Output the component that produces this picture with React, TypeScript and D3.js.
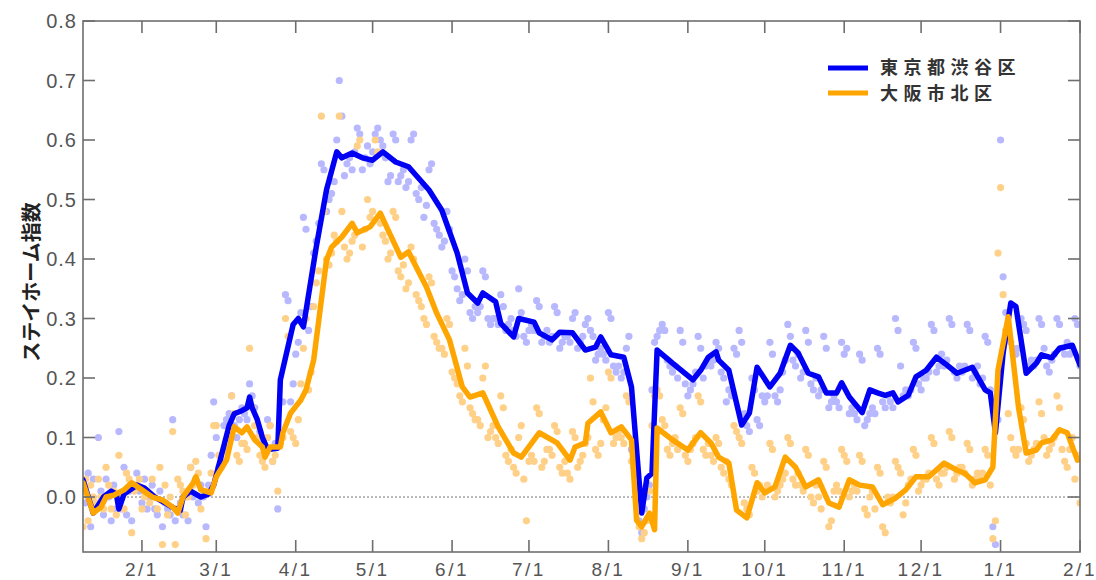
import React from 'react';
import * as d3 from 'd3';

// daily dots start on this date
const dotStart = '2020-01-09';
const xStart = '2020-01-09';
const xEnd = '2021-02-01';

const yTicks = [0.0, 0.1, 0.2, 0.3, 0.4, 0.5, 0.6, 0.7, 0.8];
const monthTicks = ['2020-02-01', '2020-03-01', '2020-04-01', '2020-05-01', '2020-06-01', '2020-07-01',
  '2020-08-01', '2020-09-01', '2020-10-01', '2020-11-01', '2020-12-01', '2021-01-01', '2021-02-01'];
const monthLabels = ['2/1', '3/1', '4/1', '5/1', '6/1', '7/1', '8/1', '9/1', '10/1', '11/1', '12/1', '1/1', '2/1'];

const seriesNames = ['東京都渋谷区', '大阪市北区'];

// daily values (Thu..Wed rows)
const tokyoDots = [
  0.02, -0.01, 0.04, -0.05, 0.03, -0.02, 0.10,
  0.01, -0.03, 0.03, 0.00, -0.04, 0.02, -0.02,
  0.11, -0.02, 0.05, -0.03, 0.01, -0.04, 0.02,
  0.04, 0.01, -0.01, 0.03, -0.02, 0.00, 0.02,
  -0.02, -0.03, 0.01, -0.05, -0.01, -0.02, -0.03,
  0.13, -0.04, -0.02, -0.01, -0.03, 0.00, -0.04,
  0.05, 0.00, 0.03, -0.01, 0.02, 0.00, -0.05,
  0.02, 0.07, 0.16, 0.10, 0.05, 0.06, 0.12,
  0.13, 0.14, 0.17, 0.12, 0.10, 0.13, 0.15,
  0.14, 0.13, 0.19, 0.17, 0.15, 0.12, 0.11,
  0.09, 0.08, 0.13, 0.12, 0.06, 0.09, -0.02,
  0.10, 0.16, 0.34, 0.33, 0.16, 0.19, 0.24,
  0.26, 0.31, 0.47, 0.45, 0.28, 0.32, 0.41,
  0.43, 0.46, 0.56, 0.55, 0.48, 0.50, 0.51,
  0.53, 0.60, 0.70, 0.64, 0.54, 0.56, 0.57,
  0.55, 0.58, 0.62, 0.61, 0.55, 0.57, 0.59,
  0.56, 0.58, 0.61, 0.62, 0.60, 0.59, 0.57,
  0.53, 0.54, 0.61, 0.60, 0.53, 0.54, 0.55,
  0.52, 0.53, 0.60, 0.61, 0.51, 0.50, 0.52,
  0.47, 0.49, 0.55, 0.56, 0.46, 0.45, 0.44,
  0.42, 0.43, 0.48, 0.45, 0.38, 0.37, 0.35,
  0.33, 0.34, 0.40, 0.38, 0.31, 0.30, 0.32,
  0.31, 0.32, 0.38, 0.37, 0.30, 0.29, 0.30,
  0.30, 0.29, 0.34, 0.32, 0.28, 0.29, 0.30,
  0.28, 0.27, 0.35, 0.31, 0.27, 0.26, 0.28,
  0.29, 0.28, 0.33, 0.32, 0.26, 0.27, 0.28,
  0.26, 0.27, 0.32, 0.31, 0.25, 0.26, 0.27,
  0.27, 0.26, 0.30, 0.31, 0.25, 0.26, 0.27,
  0.29, 0.30, 0.28, 0.27, 0.23, 0.24, 0.25,
  0.24, 0.23, 0.31, 0.30, 0.22, 0.21, 0.22,
  0.20, 0.21, 0.25, 0.27, 0.08, 0.05, 0.02,
  -0.04, -0.06, -0.02, 0.00, 0.02, 0.18, 0.26,
  0.27, 0.28, 0.29, 0.28, 0.23, 0.22, 0.21,
  0.22, 0.20, 0.28, 0.26, 0.19, 0.17, 0.18,
  0.19, 0.21, 0.27, 0.25, 0.20, 0.22, 0.23,
  0.22, 0.23, 0.26, 0.25, 0.21, 0.20, 0.16,
  0.18, 0.17, 0.25, 0.24, 0.28, 0.26, 0.14,
  0.12, 0.11, 0.20, 0.18, 0.13, 0.12, 0.17,
  0.16, 0.17, 0.26, 0.24, 0.17, 0.16, 0.18,
  0.21, 0.23, 0.29, 0.27, 0.23, 0.22, 0.24,
  0.20, 0.21, 0.28, 0.26, 0.19, 0.18, 0.20,
  0.17, 0.18, 0.27, 0.25, 0.15, 0.16, 0.17,
  0.16, 0.15, 0.26, 0.24, 0.25, 0.14, 0.15,
  0.14, 0.13, 0.24, 0.23, 0.12, 0.13, 0.14,
  0.15, 0.14, 0.25, 0.24, 0.16, 0.15, 0.17,
  0.16, 0.15, 0.30, 0.28, 0.22, 0.17, 0.18,
  0.17, 0.18, 0.26, 0.25, 0.19, 0.18, 0.20,
  0.20, 0.21, 0.29, 0.28, 0.21, 0.22, 0.24,
  0.22, 0.23, 0.30, 0.29, 0.21, 0.20, 0.22,
  0.21, 0.22, 0.29, 0.28, 0.20, 0.21, 0.22,
  0.19, 0.20, 0.27, 0.26, 0.18, -0.05, -0.08,
  0.13, 0.60, 0.37, 0.31, 0.28, 0.26, 0.25,
  0.24, 0.25, 0.30, 0.29, 0.28, 0.22, 0.23,
  0.22, 0.23, 0.30, 0.29, 0.25, 0.22, 0.21,
  0.23, 0.24, 0.30, 0.29, 0.25, 0.24, 0.26,
  0.24, 0.25, 0.30, 0.29, 0.22,
];

const osakaDots = [
  -0.05, 0.03, -0.04, 0.02, 0.00, -0.01, 0.03,
  0.00, -0.02, 0.05, 0.02, -0.02, 0.01, -0.03,
  0.07, 0.00, -0.02, 0.04, 0.03, -0.06, 0.01,
  0.02, 0.03, -0.02, 0.00, 0.01, -0.01, 0.03,
  0.00, -0.02, 0.05, -0.08, 0.02, -0.03, 0.00,
  0.11, -0.08, 0.03, 0.02, 0.01, -0.03, 0.00,
  0.05, 0.02, 0.06, 0.04, -0.02, 0.01, -0.07,
  0.01, 0.04, 0.12, 0.12, 0.07, 0.05, 0.08,
  0.08, 0.10, 0.17, 0.14, 0.07, 0.06, 0.09,
  0.09, 0.08, 0.25, 0.15, 0.12, 0.10, 0.07,
  0.06, 0.05, 0.10, 0.12, 0.06, 0.07, 0.01,
  0.09, 0.10, 0.30, 0.27, 0.11, 0.10, 0.09,
  0.13, 0.19, 0.25, 0.30, 0.18, 0.21, 0.32,
  0.36, 0.38, 0.64, 0.48, 0.40, 0.39, 0.41,
  0.44, 0.43, 0.64, 0.48, 0.42, 0.40, 0.41,
  0.43, 0.44, 0.59, 0.60, 0.42, 0.45, 0.50,
  0.47, 0.48, 0.60, 0.58, 0.46, 0.44, 0.43,
  0.40, 0.41, 0.48, 0.47, 0.38, 0.37, 0.39,
  0.35, 0.36, 0.42, 0.40, 0.34, 0.33, 0.32,
  0.30, 0.29, 0.37, 0.36, 0.27, 0.26, 0.25,
  0.25, 0.24, 0.30, 0.29, 0.21, 0.20, 0.19,
  0.17, 0.16, 0.25, 0.22, 0.15, 0.14, 0.13,
  0.13, 0.12, 0.20, 0.22, 0.10, 0.11, 0.12,
  0.10, 0.09, 0.17, 0.15, 0.07, 0.06, 0.08,
  0.05, 0.04, 0.10, 0.12, 0.03, -0.04, 0.06,
  0.07, 0.06, 0.15, 0.14, 0.05, 0.06, 0.08,
  0.08, 0.07, 0.12, 0.11, 0.05, 0.04, 0.06,
  0.04, 0.03, 0.11, 0.10, 0.05, 0.06, 0.07,
  0.09, 0.10, 0.20, 0.16, 0.08, 0.07, 0.09,
  0.13, 0.15, 0.21, 0.20, 0.09, 0.10, 0.11,
  0.10, 0.09, 0.17, 0.16, 0.06, 0.05, 0.02,
  -0.05, -0.07, -0.06, -0.04, 0.01, 0.12, 0.17,
  0.18, 0.17, 0.13, 0.12, 0.08, 0.07, 0.09,
  0.10, 0.08, 0.15, 0.14, 0.07, 0.06, 0.08,
  0.09, 0.10, 0.17, 0.16, 0.08, 0.07, 0.09,
  0.07, 0.06, 0.10, 0.09, 0.05, 0.04, 0.06,
  0.03, 0.02, 0.12, 0.11, 0.10, 0.09, -0.01,
  -0.02, -0.03, 0.05, 0.04, 0.01, 0.02, 0.00,
  0.01, 0.02, 0.09, 0.08, 0.00, 0.01, 0.02,
  0.03, 0.04, 0.10, 0.09, 0.03, 0.02, 0.04,
  0.02, 0.01, 0.08, 0.07, 0.00, -0.01, 0.02,
  0.00, -0.02, 0.06, 0.05, -0.05, -0.04, 0.01,
  0.02, 0.01, 0.08, 0.07, 0.06, 0.00, 0.01,
  0.02, 0.01, 0.07, 0.06, -0.02, -0.03, 0.00,
  0.01, -0.02, 0.05, 0.04, -0.05, -0.06, 0.00,
  -0.01, 0.00, 0.06, 0.05, 0.04, -0.03, -0.01,
  0.02, 0.03, 0.08, 0.07, 0.01, 0.02, 0.03,
  0.03, 0.04, 0.10, 0.09, 0.03, 0.02, 0.04,
  0.04, 0.05, 0.11, 0.10, 0.03, 0.04, 0.05,
  0.05, 0.04, 0.09, 0.08, 0.02, 0.03, 0.04,
  0.03, 0.04, 0.08, 0.07, 0.02, -0.07, -0.04,
  0.41, 0.52, 0.34, 0.28, 0.14, 0.10, 0.08,
  0.07, 0.08, 0.15, 0.13, 0.09, 0.06, 0.07,
  0.08, 0.09, 0.16, 0.14, 0.10, 0.07, 0.08,
  0.09, 0.10, 0.17, 0.15, 0.08, 0.06, 0.05,
  0.08, 0.10, 0.03, 0.07, -0.01,
];

// smoothed lines, read at their corners
const tokyoLineDates = [
  '2020-01-09', '2020-01-13', '2020-01-17', '2020-01-20', '2020-01-22', '2020-01-23', '2020-01-25', '2020-01-30',
  '2020-02-02', '2020-02-06', '2020-02-10', '2020-02-14', '2020-02-16', '2020-02-17', '2020-02-20', '2020-02-24',
  '2020-02-27', '2020-02-29', '2020-03-03', '2020-03-06', '2020-03-08', '2020-03-11', '2020-03-13', '2020-03-14',
  '2020-03-15', '2020-03-17', '2020-03-19', '2020-03-21', '2020-03-25', '2020-03-26', '2020-03-31', '2020-04-02',
  '2020-04-04', '2020-04-09', '2020-04-13', '2020-04-17', '2020-04-19', '2020-04-23', '2020-04-27', '2020-05-01',
  '2020-05-05', '2020-05-10', '2020-05-15', '2020-05-23', '2020-05-28', '2020-06-03', '2020-06-07', '2020-06-11',
  '2020-06-13', '2020-06-18', '2020-06-20', '2020-06-25', '2020-06-27', '2020-07-03', '2020-07-05', '2020-07-10',
  '2020-07-13', '2020-07-18', '2020-07-23', '2020-07-27', '2020-07-29', '2020-08-02', '2020-08-07', '2020-08-10',
  '2020-08-14', '2020-08-16', '2020-08-18', '2020-08-20', '2020-08-26', '2020-09-03', '2020-09-06', '2020-09-09',
  '2020-09-12', '2020-09-13', '2020-09-17', '2020-09-22', '2020-09-25', '2020-09-28', '2020-10-03', '2020-10-07',
  '2020-10-11', '2020-10-14', '2020-10-18', '2020-10-22', '2020-10-25', '2020-10-29', '2020-10-31', '2020-11-03',
  '2020-11-08', '2020-11-11', '2020-11-14', '2020-11-17', '2020-11-20', '2020-11-22', '2020-11-26', '2020-11-29',
  '2020-12-03', '2020-12-07', '2020-12-11', '2020-12-15', '2020-12-21', '2020-12-26', '2020-12-28', '2020-12-30',
  '2021-01-02', '2021-01-05', '2021-01-07', '2021-01-11', '2021-01-15', '2021-01-17', '2021-01-21', '2021-01-24',
  '2021-01-29', '2021-02-01',
];
const tokyoLineValues = [
  0.029, -0.027, 0.0, 0.01, 0.005, -0.02, 0.005, 0.02,
  0.015, 0.0, -0.01, -0.02, -0.022, 0.0, 0.01, 0.0,
  0.005, 0.02, 0.07, 0.12, 0.14, 0.145, 0.15, 0.168,
  0.15, 0.13, 0.10, 0.08, 0.082, 0.197, 0.29, 0.30,
  0.286, 0.42, 0.516, 0.58, 0.57, 0.578, 0.57, 0.566,
  0.58, 0.563, 0.555, 0.516, 0.482, 0.41, 0.343, 0.326,
  0.343, 0.328, 0.292, 0.269, 0.30, 0.294, 0.276, 0.264,
  0.277, 0.276, 0.247, 0.252, 0.269, 0.239, 0.235, 0.185,
  -0.027, 0.032, 0.04, 0.247, 0.225, 0.197, 0.213, 0.235,
  0.244, 0.23, 0.213, 0.121, 0.141, 0.218, 0.185, 0.208,
  0.255, 0.242, 0.208, 0.202, 0.175, 0.175, 0.192, 0.168,
  0.142, 0.18, 0.175, 0.171, 0.175, 0.16, 0.171, 0.202,
  0.213, 0.235, 0.222, 0.208, 0.218, 0.18, 0.175, 0.108,
  0.242, 0.326, 0.32, 0.208, 0.225, 0.239, 0.234, 0.25,
  0.255, 0.222,
];

const osakaLineDates = [
  '2020-01-09', '2020-01-13', '2020-01-16', '2020-01-18', '2020-01-21', '2020-01-25', '2020-01-28', '2020-02-01',
  '2020-02-05', '2020-02-09', '2020-02-13', '2020-02-15', '2020-02-17', '2020-02-21', '2020-02-22', '2020-02-24',
  '2020-02-28', '2020-03-01', '2020-03-05', '2020-03-08', '2020-03-11', '2020-03-13', '2020-03-16', '2020-03-19',
  '2020-03-20', '2020-03-22', '2020-03-26', '2020-03-27', '2020-03-30', '2020-04-03', '2020-04-05', '2020-04-08',
  '2020-04-13', '2020-04-15', '2020-04-19', '2020-04-23', '2020-04-25', '2020-04-30', '2020-05-04', '2020-05-07',
  '2020-05-12', '2020-05-15', '2020-05-22', '2020-05-26', '2020-05-31', '2020-06-05', '2020-06-08', '2020-06-13',
  '2020-06-19', '2020-06-25', '2020-06-28', '2020-07-05', '2020-07-12', '2020-07-17', '2020-07-19', '2020-07-23',
  '2020-07-24', '2020-07-29', '2020-08-02', '2020-08-06', '2020-08-10', '2020-08-12', '2020-08-14', '2020-08-17',
  '2020-08-19', '2020-08-20', '2020-08-26', '2020-09-01', '2020-09-06', '2020-09-10', '2020-09-13', '2020-09-17',
  '2020-09-20', '2020-09-24', '2020-09-28', '2020-10-01', '2020-10-05', '2020-10-09', '2020-10-13', '2020-10-17',
  '2020-10-22', '2020-10-26', '2020-10-30', '2020-11-03', '2020-11-07', '2020-11-12', '2020-11-16', '2020-11-21',
  '2020-11-25', '2020-11-29', '2020-12-04', '2020-12-10', '2020-12-15', '2020-12-18', '2020-12-22', '2020-12-26',
  '2020-12-29', '2020-12-31', '2021-01-04', '2021-01-08', '2021-01-11', '2021-01-15', '2021-01-17', '2021-01-21',
  '2021-01-24', '2021-01-27', '2021-01-31',
];
const osakaLineValues = [
  0.024, -0.027, -0.017, 0.0, 0.003, 0.012, 0.024, 0.012,
  0.0, -0.005, -0.017, -0.027, 0.0, 0.024, 0.034, 0.012,
  0.007, 0.034, 0.062, 0.118, 0.108, 0.118, 0.096, 0.084,
  0.067, 0.084, 0.084, 0.108, 0.141, 0.163, 0.18, 0.23,
  0.398, 0.42, 0.437, 0.46, 0.444, 0.454, 0.477, 0.449,
  0.403, 0.412, 0.353, 0.309, 0.264, 0.185, 0.168, 0.175,
  0.118, 0.074, 0.067, 0.108, 0.091, 0.062, 0.084, 0.091,
  0.124, 0.143, 0.108, 0.118, 0.096, -0.039, -0.05, -0.027,
  -0.055, 0.116, 0.096, 0.079, 0.108, 0.091, 0.067, 0.057,
  -0.022, -0.035, 0.024, 0.007, 0.017, 0.067, 0.05, 0.017,
  0.029, -0.01, -0.017, 0.029, 0.02, 0.017, -0.013, -0.002,
  0.012, 0.034, 0.034, 0.057, 0.045, 0.04, 0.024, 0.029,
  0.05, 0.213, 0.303, 0.151, 0.074, 0.079, 0.091, 0.096,
  0.113, 0.108, 0.062,
];

const W = 1096;
const H = 580;
const left = 83;
const right = 1080;
const top = 21;
const bottom = 552;

const parse = d3.timeParse('%Y-%m-%d');
const BLUE = '#0000f5';
const ORANGE = '#ffa500';
const AXIS = '#6e6e6e';

const App = () => {
  const x = d3.scaleTime().domain([parse(xStart)!, parse(xEnd)!]).range([left, right]);
  const y = d3.scaleLinear().domain([-0.0924, 0.8]).range([bottom, top]);
  const start = parse(dotStart)!;

  const line = d3
    .line<[Date, number]>()
    .x(d => x(d[0]))
    .y(d => y(d[1]));

  const tokyoPts: [Date, number][] = tokyoLineDates.map((d, i) => [parse(d)!, tokyoLineValues[i]]);
  const osakaPts: [Date, number][] = osakaLineDates.map((d, i) => [parse(d)!, osakaLineValues[i]]);

  const dots = (vals: number[]) => vals.map((v, i) => ({date: d3.timeDay.offset(start, i), v}));

  return (
    <div style={{position: 'absolute', left: 0, top: 0}}>
      <svg width={W} height={H} style={{display: 'block', fontFamily: '"Liberation Sans", Arial, sans-serif'}}>
        <defs>
          <clipPath id="plot">
            <rect x={left} y={top} width={right - left} height={bottom - top} />
          </clipPath>
        </defs>
        <rect width={W} height={H} fill="#fff" />

        <g clipPath="url(#plot)">
          <line x1={left} x2={right} y1={y(0)} y2={y(0)} stroke="#777" strokeWidth={1} strokeDasharray="2,2" />
          {dots(tokyoDots).map((d, i) => (
            <circle key={'t' + i} cx={x(d.date)} cy={y(d.v)} r={3.6} fill="#b8b8ff" />
          ))}
          {dots(osakaDots).map((d, i) => (
            <circle key={'o' + i} cx={x(d.date)} cy={y(d.v)} r={3.6} fill="#ffd088" />
          ))}
          <path d={line(tokyoPts) || ''} fill="none" stroke={BLUE} strokeWidth={5.5} strokeLinejoin="round" strokeLinecap="round" />
          <path d={line(osakaPts) || ''} fill="none" stroke={ORANGE} strokeWidth={5.5} strokeLinejoin="round" strokeLinecap="round" />
        </g>

        {/* frame */}
        <rect x={left} y={top} width={right - left} height={bottom - top} fill="none" stroke={AXIS} strokeWidth={1.6} />

        {yTicks.map(t => (
          <g key={t}>
            <line x1={left} x2={left + 12} y1={y(t)} y2={y(t)} stroke={AXIS} strokeWidth={1.6} />
            <line x1={right - 12} x2={right} y1={y(t)} y2={y(t)} stroke={AXIS} strokeWidth={1.6} />
            <text x={left - 6} y={y(t)} dy="0.36em" textAnchor="end" fontSize={20} fill="#555" letterSpacing={1}>
              {t.toFixed(1)}
            </text>
          </g>
        ))}

        {monthTicks.map((m, i) => {
          const px = x(parse(m)!);
          return (
            <g key={m}>
              <line x1={px} x2={px} y1={bottom} y2={bottom - 12} stroke={AXIS} strokeWidth={1.6} />
              <line x1={px} x2={px} y1={top} y2={top + 12} stroke={AXIS} strokeWidth={1.6} />
              <text x={px} y={576} textAnchor="middle" fontSize={19} fill="#555" letterSpacing={2.5}>
                {monthLabels[i]}
              </text>
            </g>
          );
        })}

        <text
          transform="translate(30,282) rotate(-90)"
          textAnchor="middle"
          dominantBaseline="central"
          fontSize={20}
          fontWeight="bold"
          fill="#222"
          style={{fontFamily: '"Noto Sans CJK JP", sans-serif'}}
        >
          ステイホーム指数
        </text>

        {/* legend */}
        {seriesNames.map((name, i) => (
          <g key={name}>
            <line x1={828} x2={868} y1={68 + i * 25} y2={68 + i * 25} stroke={i === 0 ? BLUE : ORANGE} strokeWidth={5} />
            <text
              x={880}
              y={74 + i * 26}
              fontSize={18}
              fontWeight="bold"
              fill="#333"
              letterSpacing={5.5}
              style={{fontFamily: '"Noto Sans CJK JP", sans-serif'}}
            >
              {name}
            </text>
          </g>
        ))}
      </svg>
    </div>
  );
};

export default App;
